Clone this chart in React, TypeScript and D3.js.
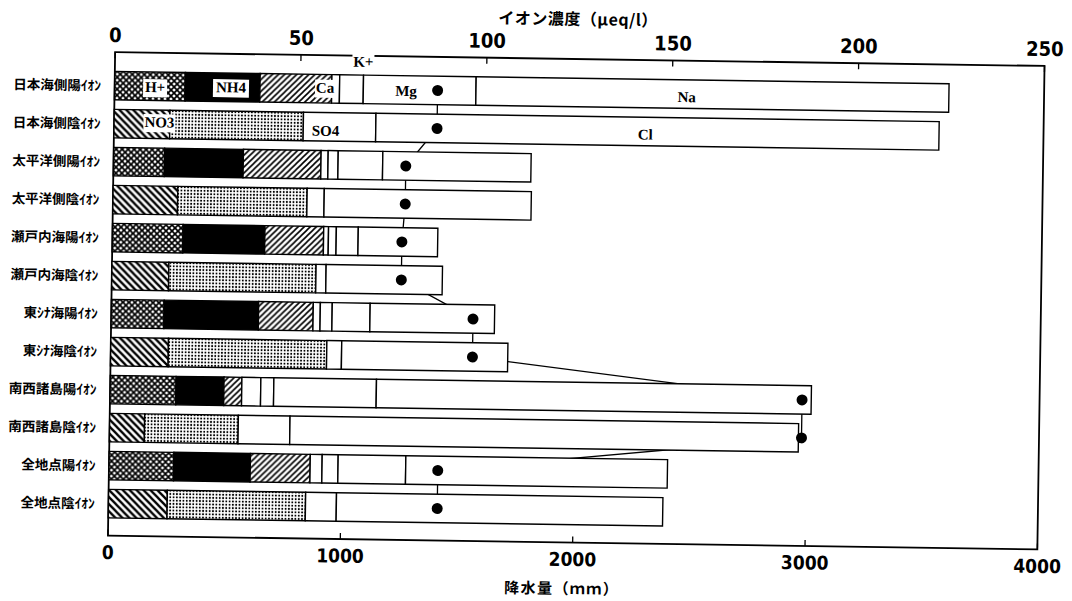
import React from "react";
import * as d3 from "d3";

// regions (each has a cation row and an anion row)
const regions = ["日本海側", "太平洋側", "瀬戸内海", "東ｼﾅ海", "南西諸島", "全地点"];

// cations (μeq/l)
const hPlus = [19.0, 13.7, 19.0, 14.2, 17.7, 17.4];
const nh4 = [20.1, 21.2, 22.0, 25.4, 12.9, 20.6];
const nssCa = [19.3, 20.9, 15.8, 14.7, 4.8, 16.1];
const ssCa = [2.1, 1.9, 1.3, 1.9, 5.1, 3.2];
const kPlus = [6.4, 2.7, 2.1, 3.2, 3.5, 4.3];
const mg = [30.3, 12.0, 5.9, 10.2, 27.6, 18.2];
const na = [127.2, 39.9, 21.4, 33.5, 117.0, 70.4];

// anions (μeq/l)
const no3 = [15.0, 17.4, 15.3, 15.5, 9.4, 15.8];
const nssSO4 = [35.9, 34.8, 39.6, 42.6, 25.2, 37.2];
const ssSO4 = [19.5, 4.6, 2.7, 4.0, 13.9, 8.3];
const cl = [151.5, 55.7, 31.3, 44.7, 136.8, 87.8];

// precipitation (mm)
const rain = [1390, 1258, 1246, 1557, 2978, 1415];

const ionTicks = [0, 50, 100, 150, 200, 250];
const rainTicks = [0, 1000, 2000, 3000, 4000];

const cationFills = ["url(#cross)", "#000", "url(#hatchR)", "#fff", "#fff", "#fff", "#fff"];
const anionFills = ["url(#hatchL)", "url(#dots)", "#fff", "#fff"];

const left = 111.5;
const right = 1041;
const top = 59;
const bottom = 542.5;

const numFont = "'Liberation Sans Narrow', 'DejaVu Sans Condensed', 'Liberation Sans', sans-serif";
const jpFont = "'Noto Sans CJK JP', 'Noto Sans CJK SC', sans-serif";
const labFont = "'Liberation Serif', 'DejaVu Serif', serif";

export default function App() {
  const rows = regions.flatMap((r, i) => [
    {
      label: r + "陽ｲｵﾝ",
      values: [hPlus[i], nh4[i], nssCa[i], ssCa[i], kPlus[i], mg[i], na[i]],
      fills: cationFills,
      rain: rain[i],
    },
    {
      label: r + "陰ｲｵﾝ",
      values: [no3[i], nssSO4[i], ssSO4[i], cl[i]],
      fills: anionFills,
      rain: rain[i],
    },
  ]);

  const ion = d3.scaleLinear().domain([0, 250]).range([left, right]);
  const mm = d3.scaleLinear().domain([0, 4000]).range([left, right]);
  const y = d3
    .scaleBand()
    .domain(rows.map((d) => d.label))
    .range([73.5, 529.5])
    .paddingInner(0.25)
    .paddingOuter(0.125);
  const bw = y.bandwidth();
  const cy = (label) => y(label) + bw / 2;

  const rainLine = d3
    .line()
    .x((d) => mm(d.rain))
    .y((d) => cy(d.label))(rows);

  const r0 = rows[0].label;
  const r1 = rows[1].label;

  // text labels on the first two rows (ion units)
  const boxLabel = (text, at, yy, w) => (
    <g key={text}>
      <rect x={ion(at) - w / 2} y={yy - 13} width={w} height={18} fill="#fff" />
      <text x={ion(at)} y={yy} textAnchor="middle" fontFamily={labFont} fontWeight="bold" fontSize={15}>
        {text}
      </text>
    </g>
  );

  return (
    <svg width={1072} height={601} style={{ position: "absolute", left: 0, top: 0, background: "#fff" }}>
      <defs>
        <pattern id="cross" width={6} height={6} patternUnits="userSpaceOnUse">
          <rect width={6} height={6} fill="#fff" />
          <path d="M0,0L6,6M6,0L0,6" stroke="#000" strokeWidth={1.7} />
        </pattern>
        <pattern id="hatchR" width={6} height={6} patternUnits="userSpaceOnUse">
          <rect width={6} height={6} fill="#fff" />
          <path d="M0,6L6,0M-1,1L1,-1M5,7L7,5" stroke="#000" strokeWidth={1.6} />
        </pattern>
        <pattern id="hatchL" width={7} height={7} patternUnits="userSpaceOnUse">
          <rect width={7} height={7} fill="#fff" />
          <path d="M0,0L7,7M-1,6L1,8M6,-1L8,1" stroke="#000" strokeWidth={2.3} />
        </pattern>
        <pattern id="dots" width={3.3} height={3.3} patternUnits="userSpaceOnUse">
          <rect width={3.3} height={3.3} fill="#fff" />
          <circle cx={1.65} cy={1.65} r={1} fill="#000" />
        </pattern>
      </defs>

      <g transform="rotate(0.85 575 300)">
        {/* titles */}
        <text x={574} y={25} textAnchor="middle" fontFamily={jpFont} fontWeight="bold" fontSize={16} letterSpacing={0.5}>
          イオン濃度（μeq/l）
        </text>
        <text x={566} y={594} textAnchor="middle" fontFamily={jpFont} fontWeight="bold" fontSize={15} letterSpacing={1.5}>
          降水量（ｍｍ）
        </text>

        {/* frame */}
        <rect x={left} y={top} width={right - left} height={bottom - top} fill="none" stroke="#000" strokeWidth={1.8} />

        {/* top axis */}
        {ionTicks.map((t) => (
          <g key={"it" + t}>
            <line x1={ion(t)} x2={ion(t)} y1={top} y2={top + 6} stroke="#000" strokeWidth={1.3} />
            <text x={ion(t)} y={49} textAnchor="middle" fontFamily={numFont} fontWeight="bold" fontSize={20}>
              {t}
            </text>
          </g>
        ))}

        {/* bottom axis */}
        {rainTicks.map((t) => (
          <g key={"rt" + t}>
            <line x1={mm(t)} x2={mm(t)} y1={bottom} y2={bottom - 6} stroke="#000" strokeWidth={1.3} />
            <text x={mm(t)} y={566} textAnchor="middle" fontFamily={numFont} fontWeight="bold" fontSize={19}>
              {t}
            </text>
          </g>
        ))}

        {/* precipitation connecting line (behind bars) */}
        <path d={rainLine} fill="none" stroke="#000" strokeWidth={1.3} />

        {/* stacked bars */}
        {rows.map((row) => {
          const cum = d3.cumsum(row.values);
          return (
            <g key={row.label}>
              {row.values.map((v, j) => (
                <rect
                  key={j}
                  x={ion(cum[j] - v)}
                  y={y(row.label)}
                  width={ion(cum[j]) - ion(cum[j] - v)}
                  height={bw}
                  fill={row.fills[j]}
                  stroke="#000"
                  strokeWidth={1.4}
                />
              ))}
              <text
                x={98}
                y={cy(row.label) + 5}
                textAnchor="end"
                fontFamily={jpFont}
                fontWeight="bold"
                fontSize={13.5}
              >
                {row.label}
              </text>
            </g>
          );
        })}

        {/* ion labels */}
        {boxLabel("H+", 10.9, cy(r0) + 6, 24)}
        {boxLabel("NH4", 31.3, cy(r0) + 5, 36)}
        {boxLabel("Ca", 56.6, cy(r0) + 4, 20)}
        {boxLabel("K+", 66.8, 70, 22)}
        {boxLabel("NO3", 12.2, cy(r1) + 3, 32)}
        <text x={ion(78.4)} y={cy(r0) + 6} textAnchor="middle" fontFamily={labFont} fontWeight="bold" fontSize={15}>
          Mg
        </text>
        <text x={ion(153.9)} y={cy(r0) + 8} textAnchor="middle" fontFamily={labFont} fontWeight="bold" fontSize={15}>
          Na
        </text>
        <text x={ion(56.9)} y={cy(r1) + 9} textAnchor="middle" fontFamily={labFont} fontWeight="bold" fontSize={15}>
          SO4
        </text>
        <text x={ion(142.9)} y={cy(r1) + 8} textAnchor="middle" fontFamily={labFont} fontWeight="bold" fontSize={15}>
          Cl
        </text>

        {/* precipitation dots */}
        {rows.map((row) => (
          <circle key={"d" + row.label} cx={mm(row.rain)} cy={cy(row.label)} r={5.5} fill="#000" />
        ))}
      </g>
    </svg>
  );
}
